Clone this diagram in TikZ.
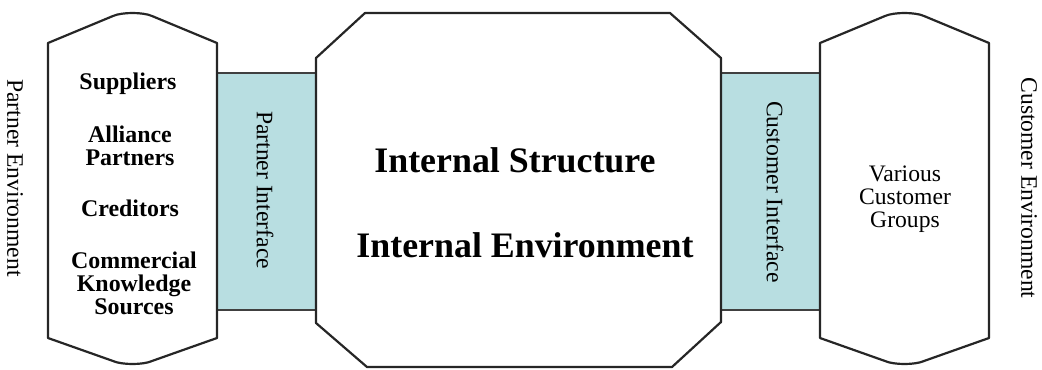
\documentclass[tikz,border=0pt]{standalone}
\usepackage{fontspec}
\setmainfont{Liberation Serif}
\begin{document}
\begin{tikzpicture}[x=1bp,y=-1bp,
  outline/.style={draw=black!85,line width=2.2bp,line join=round,fill=white},
  iface/.style={fill=ifacefill,draw=none},
  ifaceedge/.style={draw=black!75,line width=2.6bp},
  lbl/.style={font=\fontsize{23.7}{23}\selectfont,align=center,inner sep=0pt},
  blbl/.style={font=\fontsize{24}{23}\selectfont\bfseries,align=center,inner sep=0pt},
  biglbl/.style={font=\fontsize{36}{40}\selectfont\bfseries,inner sep=0pt}]
\definecolor{ifacefill}{HTML}{B8DEE1}
\useasboundingbox (0,0) rectangle (1042,369);
% interfaces
\fill[iface] (217,73) rectangle (318,310);
\fill[iface] (720,73) rectangle (821,310);
\draw[ifaceedge] (217,73) -- (318,73) (217,310) -- (318,310);
\draw[ifaceedge] (720,73) -- (821,73) (720,310) -- (821,310);
% left shape
\draw[outline] (48,43) -- (113,16) .. controls (122,12) and (143,12) .. (152,16) -- (217,43)
  -- (217,338) -- (152,361) .. controls (143,365) and (122,365) .. (113,361) -- (48,338) -- cycle;
% right shape
\draw[outline] (820,43) -- (885,16) .. controls (894,12) and (915,12) .. (924,16) -- (989,43)
  -- (989,338) -- (924,361) .. controls (915,365) and (894,365) .. (885,361) -- (820,338) -- cycle;
% octagon
\draw[outline] (365,13) -- (670,13) -- (721,58) -- (721,322) -- (672,367) -- (367,367) -- (316,323) -- (316,58) -- cycle;
% labels
\node[lbl,rotate=-90] (penv) at (15,178) {Partner Environment};
\node[lbl,rotate=-90] (cenv) at (1029,188) {Customer Environment};
\node[lbl,rotate=-90] (pint) at (265,190) {Partner Interface};
\node[lbl,rotate=-90] (cint) at (775,192) {Customer Interface};
\node[blbl] (sup) at (128,84) {Suppliers};
\node[blbl] (all) at (130,146) {Alliance\\Partners};
\node[blbl] (cred) at (130,208) {Creditors};
\node[blbl] (comm) at (134,283) {Commercial\\Knowledge\\Sources};
\node[lbl] (var) at (905,199) {Various\\Customer\\Groups};
\node[biglbl] (is) at (515,160) {Internal Structure};
\node[biglbl] (ie) at (525,245) {Internal Environment};
\end{tikzpicture}
\end{document}
